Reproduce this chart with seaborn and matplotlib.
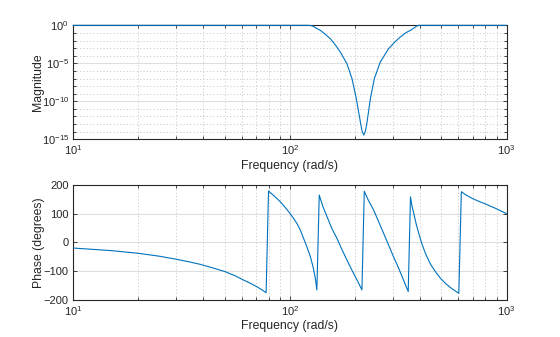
import numpy as np
import pandas as pd
import matplotlib
matplotlib.use("Agg")
import matplotlib.pyplot as plt
import matplotlib.ticker as mticker
import seaborn as sns

# Magnitude response (rad/s, exponent of the linear magnitude)
mag_freq = [10, 50, 100, 121, 124.5, 128, 131, 138.4, 145.5, 153.8, 162, 171.0,
            183.6, 193.7, 202.8, 211.7, 215.5, 219.5, 223.5, 227.4, 235.5,
            245.6, 261.6, 285.9, 305, 323.6, 342, 360.6, 377, 385, 393.7, 500, 1000]
mag_exp = [0, 0, 0, 0, -0.02, -0.12, -0.3, -0.66, -1.15, -1.76, -2.55, -3.51,
           -5.05, -7.02, -9.65, -12.7, -13.9, -14.45, -13.9, -12.7, -9.65,
           -7.02, -4.83, -3.07, -2.2, -1.54, -1.0, -0.66, -0.3, -0.1, 0, 0, 0]
mag_val = [10.0 ** e for e in mag_exp]

# Wrapped phase response (rad/s, degrees)
ph_freq = [10, 15, 20, 25, 30, 34, 38.6, 44, 50.4, 56, 61.2, 66, 70.5, 74.5, 77.8,
           79.8, 85, 90.4, 95, 99.7, 104, 107.9, 112, 115.8, 120, 124.5, 128, 131, 133.4,
           136.8, 142, 148.6, 156, 165, 174, 183.6, 192, 200, 208, 215.3,
           220.7, 230, 243.8, 257, 271, 286, 301, 315, 330, 352,
           360.6, 366, 373.4, 383, 393.7, 407, 422.4, 445, 470, 495, 522, 560, 602.6,
           619, 650, 693, 745, 800, 889, 1000]
ph_deg = [-20, -29, -38.4, -48.5, -59.3, -67.5, -76.8, -89, -102.6, -117, -131.6, -143.5, -155, -166, -176,
          179, 161, 141.7, 123, 103, 84, 66, 42, 14, -16, -50, -85, -122, -166.5,
          165, 126, 89.4, 50, 14, -25, -61.8, -92, -118, -143, -166,
          178, 148, 112.7, 72, 31.4, -10, -50.3, -83, -120, -172,
          159, 128, 101, 64, 31.4, -5, -38.4, -75, -102.6, -125, -143, -162, -178,
          176.6, 165, 153.6, 143, 133.7, 118.7, 100]

mag_df = pd.DataFrame({"Frequency": mag_freq, "Magnitude": mag_val})
ph_df = pd.DataFrame({"Frequency": ph_freq, "Phase": ph_deg})

sns.set_style("ticks")
plt.rcParams["font.family"] = ["Liberation Sans", "DejaVu Sans"]
plt.rcParams["mathtext.fontset"] = "custom"
plt.rcParams["mathtext.rm"] = "Liberation Sans"
plt.rcParams["mathtext.it"] = "Liberation Sans:italic"
plt.rcParams["mathtext.bf"] = "Liberation Sans:bold"

LINE = "#0072BD"
INK = "#262626"
FS = 8.0
LFS = 8.8

fig = plt.figure(figsize=(5.6, 3.37), dpi=100)
ax1 = fig.add_axes([73 / 560, 1 - 139.3 / 337, 433.5 / 560, 114 / 337])
ax2 = fig.add_axes([73 / 560, 1 - 299.6 / 337, 433.5 / 560, 114.6 / 337])

sns.lineplot(data=mag_df, x="Frequency", y="Magnitude", ax=ax1, color=LINE,
             linewidth=0.8, sort=False, estimator=None, clip_on=False, zorder=5)
sns.lineplot(data=ph_df, x="Frequency", y="Phase", ax=ax2, color=LINE,
             linewidth=0.8, sort=False, estimator=None, zorder=5)


def sup(v, pos):
    e = int(round(np.log10(v)))
    return r"$10^{%d}$" % e


for ax in (ax1, ax2):
    ax.set_xscale("log")
    ax.set_xlim(10, 1000)
    ax.xaxis.set_major_locator(mticker.LogLocator(base=10, numticks=10))
    ax.xaxis.set_minor_locator(mticker.LogLocator(base=10, subs=np.arange(2, 10), numticks=20))
    ax.xaxis.set_major_formatter(mticker.FuncFormatter(sup))
    ax.xaxis.set_minor_formatter(mticker.NullFormatter())
    ax.grid(True, which="major", color="#dedede", linewidth=0.8, linestyle="-")
    ax.grid(True, which="minor", axis="x", color="#c8c8c8", linewidth=0.6, linestyle=(0, (1.5, 2.5)))
    for s in ax.spines.values():
        s.set_visible(True)
        s.set_color(INK)
        s.set_linewidth(0.8)
    ax.tick_params(which="both", direction="in", top=True, right=True,
                   labelsize=FS, colors=INK, length=3, width=0.6, pad=3)
    ax.tick_params(which="minor", length=2)
    ax.set_xlabel("Frequency (rad/s)", fontsize=LFS, color=INK, labelpad=2)
    ax.set_axisbelow(True)

ax1.set_yscale("log")
ax1.set_ylim(1e-15, 1e0)
ax1.set_yticks([1e-15, 1e-10, 1e-5, 1e0])
ax1.yaxis.set_minor_locator(mticker.FixedLocator([10.0 ** k for k in range(-14, 0)]))
ax1.yaxis.set_major_formatter(mticker.FuncFormatter(sup))
ax1.yaxis.set_minor_formatter(mticker.NullFormatter())
ax1.grid(True, which="minor", axis="y", color="#c8c8c8", linewidth=0.6, linestyle=(0, (1.5, 2.5)))
ax1.set_ylabel("Magnitude", fontsize=LFS, color=INK)
ax1.yaxis.set_label_coords(-0.068, 0.5)

ax2.set_ylim(-200, 200)
ax2.set_yticks([-200, -100, 0, 100, 200])
ax2.yaxis.set_minor_locator(mticker.NullLocator())
ax2.set_ylabel("Phase (degrees)", fontsize=LFS, color=INK)
ax2.yaxis.set_label_coords(-0.064, 0.5)

fig.savefig("out.png", dpi=100, facecolor="white")
